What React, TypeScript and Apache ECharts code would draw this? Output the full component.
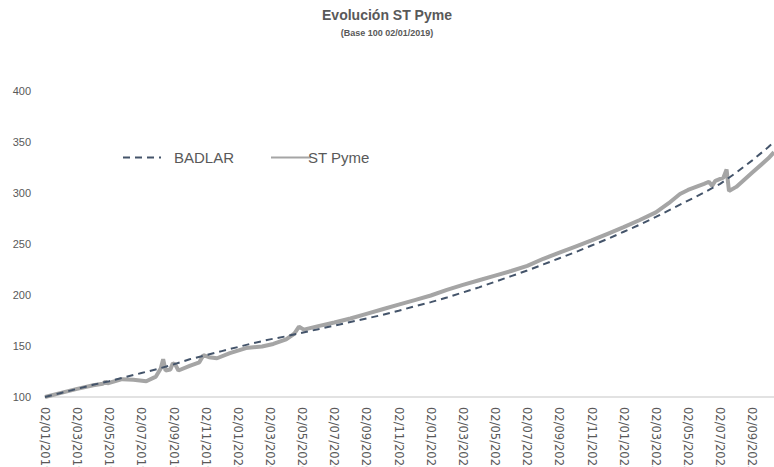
import React, { useEffect, useRef } from "react";
import * as echarts from "echarts";

// x positions are months elapsed since 02/01/2019
const xTickLabels = [
  "02/01/2019", "02/03/2019", "02/05/2019", "02/07/2019", "02/09/2019", "02/11/2019",
  "02/01/2020", "02/03/2020", "02/05/2020", "02/07/2020", "02/09/2020", "02/11/2020",
  "02/01/2021", "02/03/2021", "02/05/2021", "02/07/2021", "02/09/2021", "02/11/2021",
  "02/01/2022", "02/03/2022", "02/05/2022", "02/07/2022", "02/09/2022",
];

const badlarMonths = [
  0, 1, 2, 3, 4, 5, 6, 7, 8, 9, 10, 11, 12, 13, 14, 15, 16, 17, 18, 19, 20, 21, 22, 23,
  24, 25, 26, 27, 28, 29, 30, 31, 32, 33, 34, 35, 36, 37, 38, 39, 40, 41, 42, 43, 44, 45, 45.35,
];
const badlarValues = [
  100, 104, 108, 112, 115.5, 119.5, 123.5, 127.5, 132, 137, 141, 145, 149, 153, 156.5, 159.5,
  163, 166.5, 170, 173.5, 177, 180.5, 184.5, 189, 193, 197.5, 202.5, 207.5, 213, 218.5, 224,
  230, 236, 242, 248.5, 255, 262, 269, 276.5, 284.5, 292.5, 300.5, 309, 320, 332, 345, 350,
];

const stMonths = [
  0, 1, 2, 3, 3.6, 3.75, 3.9, 4.8, 5.5, 6.3, 6.9, 7.2, 7.35, 7.5, 7.8, 7.95, 8.1, 8.3, 9, 9.6,
  9.85, 10.2, 10.7, 11.5, 12.5, 13.5, 14.2, 15, 15.5, 15.8, 16.1, 17, 18, 19, 20, 21, 22, 23,
  24, 25, 26, 27, 28, 29, 30, 31, 32, 33, 34, 35, 36, 37, 38, 38.8, 39.5, 40, 40.5, 41, 41.3,
  41.5, 41.7, 42.2, 42.4, 42.55, 43, 44, 45, 45.35,
];
const stValues = [
  100, 104, 108, 111.5, 113, 115, 113.5, 117.5, 117, 115.5, 120, 128, 137, 126, 127, 133, 132,
  126, 130.5, 134, 141, 139, 138, 143, 148, 149.5, 152, 156.5, 162, 169, 166, 169.5, 173, 177,
  181.5, 186, 190.5, 195, 199.5, 205, 210, 214.5, 219, 223.5, 228.5, 235.5, 241.5, 247.5,
  253.5, 260, 266.5, 273.5, 281, 290, 299, 303, 306, 309, 311, 307, 312, 315, 323, 302, 306,
  320, 334, 340,
];

const seriesNames = ["BADLAR", "ST Pyme"];

export default function App() {
  const ref = useRef<HTMLDivElement>(null);
  useEffect(() => {
    document.body.style.margin = "0";
    if (!ref.current) return;
    const chart = echarts.init(ref.current, null, { renderer: "svg" });
    const grey = "#595959";
    const legendText = { fontFamily: "Liberation Sans", fontSize: 15, color: grey };
    chart.setOption({
      animation: false,
      backgroundColor: "#ffffff",
      title: {
        text: "Evolución ST Pyme",
        subtext: "(Base 100 02/01/2019)",
        left: "center",
        top: 3,
        itemGap: 6,
        textStyle: { fontFamily: "Liberation Sans", fontWeight: "bold", fontSize: 14, color: grey },
        subtextStyle: { fontFamily: "Liberation Sans", fontWeight: "bold", fontSize: 9, color: grey },
      },
      legend: [
        {
          left: 117,
          top: 145,
          itemWidth: 38,
          itemHeight: 14,
          data: [seriesNames[0]],
          itemStyle: { opacity: 0 },
          textStyle: { ...legendText, padding: [0, 0, 0, 8] },
        },
        {
          left: 265,
          top: 145,
          itemWidth: 40,
          itemHeight: 14,
          data: [seriesNames[1]],
          itemStyle: { opacity: 0 },
          textStyle: { ...legendText, padding: [0, 0, 0, -8] },
        },
      ],
      grid: {
        left: 45,
        right: 0,
        top: 91,
        bottom: 70,
        containLabel: false,
        outerBoundsMode: "none",
      },
      xAxis: {
        type: "value",
        min: 0,
        max: 45.35,
        interval: 2,
        axisLine: { show: true, lineStyle: { color: "#D9D9D9", width: 1.5 } },
        axisTick: { show: false },
        splitLine: { show: false },
        axisLabel: {
          rotate: -90,
          margin: 10,
          align: "left",
          verticalAlign: "middle",
          showMaxLabel: false,
          hideOverlap: false,
          fontFamily: "DejaVu Sans",
          fontSize: 11.5,
          color: grey,
          formatter: (v: number) => {
            const i = Math.round(v / 2);
            return Math.abs(v - i * 2) < 1e-6 && xTickLabels[i] ? xTickLabels[i] : "";
          },
        },
      },
      yAxis: {
        type: "value",
        min: 100,
        max: 400,
        interval: 50,
        axisLine: { show: false },
        axisTick: { show: false },
        splitLine: { show: false },
        axisLabel: { margin: 14, fontFamily: "Liberation Sans", fontSize: 11, color: grey },
      },
      series: [
        {
          name: seriesNames[0],
          type: "line",
          symbol: "none",
          z: 3,
          data: badlarMonths.map((m, i) => [m, badlarValues[i]]),
          lineStyle: { color: "#44546A", width: 2, type: [7, 5] },
          itemStyle: { color: "#44546A" },
        },
        {
          name: seriesNames[1],
          type: "line",
          symbol: "none",
          z: 2,
          data: stMonths.map((m, i) => [m, stValues[i]]),
          lineStyle: { color: "#A5A5A5", width: 4 },
          itemStyle: { color: "#A5A5A5" },
        },
      ],
    });
    return () => chart.dispose();
  }, []);
  return <div ref={ref} style={{ width: 774, height: 467 }} />;
}
